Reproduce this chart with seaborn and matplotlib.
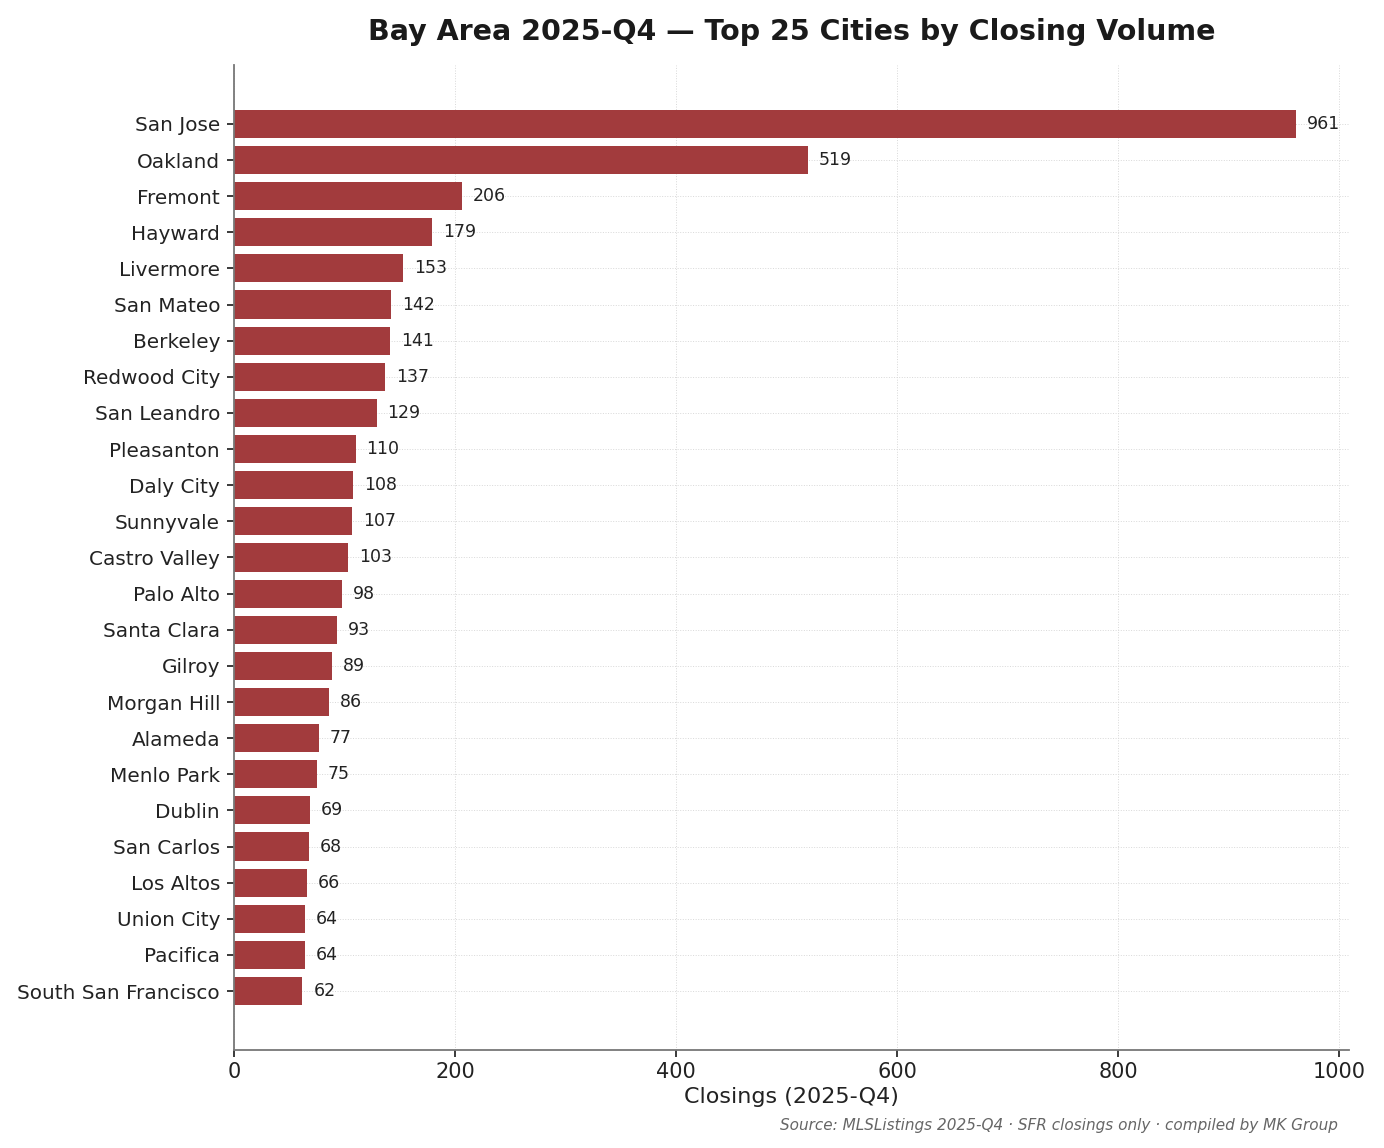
import matplotlib
matplotlib.use("Agg")
import matplotlib.pyplot as plt
import numpy as np
import pandas as pd
import seaborn as sns

sns.set_theme(style="ticks")
plt.rcParams['font.family'] = ['DejaVu Sans']

cities = ["San Jose", "Oakland", "Fremont", "Hayward", "Livermore", "San Mateo",
          "Berkeley", "Redwood City", "San Leandro", "Pleasanton", "Daly City",
          "Sunnyvale", "Castro Valley", "Palo Alto", "Santa Clara", "Gilroy",
          "Morgan Hill", "Alameda", "Menlo Park", "Dublin", "San Carlos",
          "Los Altos", "Union City", "Pacifica", "South San Francisco"]
closings = [961, 519, 206, 179, 153, 142, 141, 137, 129, 110, 108, 107, 103,
            98, 93, 89, 86, 77, 75, 69, 68, 66, 64, 64, 62]

df = pd.DataFrame({"city": cities, "closings": closings})

fig = plt.figure(figsize=(13.84, 11.48), dpi=100)
ax = fig.add_axes([0.169, 0.0854, 0.806, 0.8580])

sns.barplot(data=df, y="city", x="closings", color="#a23b3d", saturation=1,
            width=0.78, orient="h", linewidth=0, ax=ax)

for i, v in enumerate(closings):
    ax.text(v + 10, i, str(v), va="center", ha="left", fontsize=12.5, color="#222222")

ax.set_xlim(0, max(closings) * 1.05)
ax.set_ylim(len(cities) - 1 + 1.63, -1.63)
ax.grid(True, linestyle=":", color="#d8d8d8", linewidth=0.7)
ax.set_axisbelow(True)
for s in ["top", "right"]:
    ax.spines[s].set_visible(False)
for s in ["left", "bottom"]:
    ax.spines[s].set_color("#777777")
    ax.spines[s].set_linewidth(1.3)
ax.tick_params(axis="y", labelsize=14.4, colors="#222222", length=5, pad=5)
ax.tick_params(axis="x", labelsize=15, colors="#222222", length=5)
ax.set_ylabel("")
ax.set_xlabel("Closings (2025-Q4)", fontsize=16, color="#222222", labelpad=4)
ax.set_title("Bay Area 2025-Q4 \u2014 Top 25 Cities by Closing Volume",
             fontsize=20.5, fontweight="bold", color="#1a1a1a", pad=18)

fig.text(0.967, 0.0195, "Source: MLSListings 2025-Q4 \u00b7 SFR closings only \u00b7 compiled by MK Group",
         ha="right", va="center", fontsize=11, style="italic", color="#666666")

fig.savefig("out.png", dpi=100)
